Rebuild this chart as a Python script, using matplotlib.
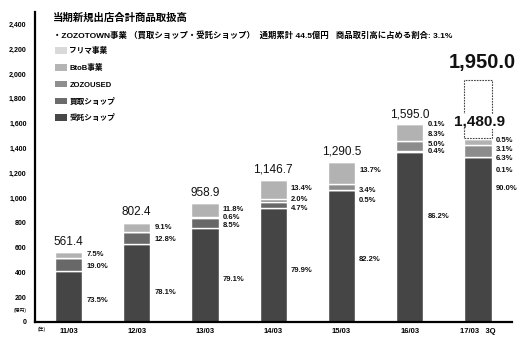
import matplotlib.pyplot as plt
import numpy as np
from matplotlib.patches import Patch

plt.rcParams['font.family'] = ['Liberation Sans', 'Noto Sans CJK JP', 'DejaVu Sans']

# data
years = ['11/03', '12/03', '13/03', '14/03', '15/03', '16/03', '17/03   3Q']
totals = [561.4, 802.4, 958.9, 1146.7, 1290.5, 1595.0, 1480.9]
target = 1950.0

series = ['受託ショップ', '買取ショップ', 'ZOZOUSED', 'BtoB事業', 'フリマ事業']
# share of each series (%), bottom to top
itaku = [73.5, 78.1, 79.1, 79.9, 82.2, 86.2, 90.0]
kaitori = [19.0, 12.8, 8.5, 4.7, 0.5, 0.4, 0.1]
zozoused = [0.0, 0.0, 0.6, 2.0, 3.4, 5.0, 6.3]
btob = [7.5, 9.1, 11.8, 13.4, 13.7, 8.3, 3.1]
furima = [0.0, 0.0, 0.0, 0.0, 0.0, 0.1, 0.5]
shares = [itaku, kaitori, zozoused, btob, furima]

bar_colors = ['#454545', '#686868', '#8c8c8c', '#b2b2b2', '#d9d9d9']

# where the % labels sit (data units), same order as shares
label_y = [
    [170, 447, None, 541, None],
    [240, 668, None, 762, None],
    [339, 775, 842, 910, None],
    [414, 918, 985, 1080, None],
    [501, 983, 1058, 1220, None],
    [851, 1371, 1430, 1513, 1589],
    [1074, 1222, 1322, 1395, 1460],
]

fig = plt.figure(figsize=(5.29, 3.4), dpi=100)
ax = fig.add_axes([35 / 529, 18 / 340, 477 / 529, 310 / 340])

x = np.arange(len(years))
w = 0.40
bottom = np.zeros(len(years))
for s, c in zip(shares, bar_colors):
    h = np.array(totals) * np.array(s) / 100
    ax.bar(x, h, w, bottom=bottom, color=c, edgecolor='white', linewidth=1)
    bottom += h

# target box for 17/03
ax.bar(x[-1], target - totals[-1], w, bottom=totals[-1], fill=False,
       edgecolor='#444444', linestyle=(0, (1.5, 1)), linewidth=0.8)

# percentage labels
for i in range(len(years)):
    for k, s in enumerate(shares):
        yy = label_y[i][k]
        if yy is None:
            continue
        ax.annotate(f'{s[i]:.1f}%', (x[i] + w / 2, yy), xytext=(3, 0),
                    textcoords='offset points', ha='left', va='center',
                    fontsize=5.5, fontweight='bold', color='#111111')

# total labels
for i in range(len(years) - 1):
    ax.annotate(f'{totals[i]:,.1f}', (x[i], totals[i]), xytext=(0, 3),
                textcoords='offset points', ha='center', va='bottom',
                fontsize=8.5, color='#111111')
ax.text(x[-1] + 0.02, 1618, f'{totals[-1]:,.1f}', ha='center', va='center',
        fontsize=11, fontweight='bold', color='#111111', zorder=5,
        bbox=dict(facecolor='white', edgecolor='none', pad=0.3))
ax.annotate(f'{target:,.1f}', (x[-1], target), xytext=(3, 6),
            textcoords='offset points', ha='center', va='bottom',
            fontsize=14.5, fontweight='bold', color='#111111')

ax.set_xlim(-0.49, 6.5)
ax.set_ylim(0, 2500)
ax.set_yticks(range(0, 2401, 200))
ax.set_yticklabels([f'{v:,}' for v in range(0, 2401, 200)], fontsize=5, fontweight='bold')
ax.set_xticks(x)
ax.set_xticklabels(years, fontsize=5.5, fontweight='bold')
ax.tick_params(axis='y', length=0, pad=6)
ax.tick_params(axis='x', length=0, pad=4)
for sp in ['top', 'right']:
    ax.spines[sp].set_visible(False)
ax.spines['left'].set_linewidth(1.6)
ax.spines['bottom'].set_linewidth(1.6)

fig.text(20 / 529, 1 - 310.5 / 340, '(億円)', fontsize=3.5, ha='center', va='center')
fig.text(42 / 529, 1 - 329 / 340, '(年)', fontsize=3.5, ha='center', va='center')

fig.text(53 / 529, 1 - 18 / 340, '当期新規出店合計商品取扱高', fontsize=7.5,
         fontweight='bold', ha='left', va='center')
fig.text(53 / 529, 1 - 35 / 340,
         '・ZOZOTOWN事業 （買取ショップ・受託ショップ）  通期累計 44.5億円   商品取引高に占める割合: 3.1%',
         fontsize=6.0, fontweight='bold', ha='left', va='center')

legend_colors = ['#d9d9d9', '#b4b4b4', '#8e8e8e', '#6b6b6b', '#474747']
handles = [Patch(facecolor=c, edgecolor='none', label=l)
           for c, l in zip(legend_colors, series[::-1])]
fig.legend(handles=handles, loc='upper left', bbox_to_anchor=(55 / 529, 1 - 47 / 340),
           frameon=False, handlelength=1.57, handleheight=1.0,
           handletextpad=0.3, labelspacing=1.15, borderpad=0, borderaxespad=0,
           prop={'weight': 'bold', 'size': 5.5})

fig.savefig('out.png', dpi=100)
